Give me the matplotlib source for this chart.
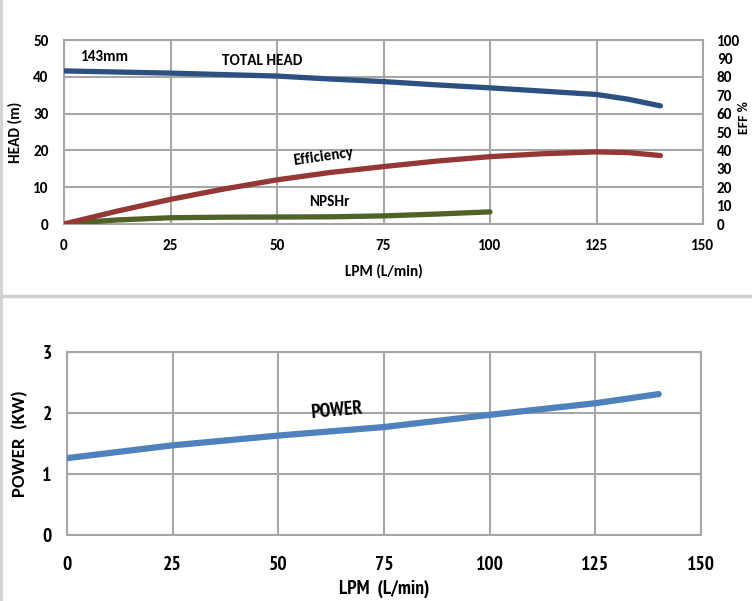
import matplotlib
matplotlib.use("Agg")
import matplotlib.pyplot as plt
from matplotlib.lines import Line2D

# flow points (L/min)
flow = [0, 12.5, 25, 37.5, 50, 62.5, 75, 87.5, 100, 112.5, 125, 132.5, 140]
total_head = [41.6, 41.3, 41.0, 40.6, 40.2, 39.4, 38.7, 37.8, 37.0, 36.1, 35.2, 33.9, 32.1]
efficiency = [0, 7.0, 13.4, 19.0, 24.0, 28.0, 31.2, 34.2, 36.6, 38.2, 39.2, 38.8, 37.2]  # %

npsh_flow = [0, 6, 12.5, 25, 37.5, 50, 62.5, 75, 87.5, 100]
npshr = [0, 0.6, 1.1, 1.7, 1.85, 1.9, 1.95, 2.2, 2.7, 3.3]

power_flow = [0, 25, 50, 75, 100, 125, 140]
power = [1.26, 1.47, 1.63, 1.77, 1.97, 2.16, 2.31]

x_ticks = [0, 25, 50, 75, 100, 125, 150]

W, H = 752, 601
fig = plt.figure(figsize=(W / 100, H / 100), dpi=100)

top_font = "Carlito"
bot_font = "PT Sans Narrow"
grid_c = "#a6a6a6"
tf = dict(fontfamily=top_font, fontweight="bold", fontsize=11)
bf = dict(fontfamily=bot_font, fontweight="bold", fontsize=14)


def px_axes(x0, y0, x1, y1):
    return fig.add_axes([x0 / W, 1 - y1 / H, (x1 - x0) / W, (y1 - y0) / H])


# panel separators
fig.add_artist(Line2D([1 / W, 1 / W], [0, 1], color="#d0d0d0", lw=2))
fig.add_artist(Line2D([0, 1], [1 - 296 / H, 1 - 296 / H], color="#d0d0d0", lw=2.5))

# ---- top chart: head / efficiency / npsh
ax = px_axes(64, 40, 703, 224)
ax.set_xlim(0, 150)
ax.set_ylim(0, 50)
ax.set_xticks(x_ticks)
ax.set_yticks(range(0, 51, 10))
ax.grid(True, color=grid_c, lw=1.5)
ax.tick_params(length=0, pad=11)
for s in ax.spines.values():
    s.set_color(grid_c)
    s.set_linewidth(1.5)
for lab in ax.get_xticklabels() + ax.get_yticklabels():
    lab.set(**tf)

ax.plot(flow, total_head, color="#2c5080", lw=3.8, solid_capstyle="round", zorder=3)
ax.plot(npsh_flow, npshr, color="#4f6228", lw=3.8, solid_capstyle="round", zorder=3)

ax2 = ax.twinx()
ax2.set_ylim(0, 100)
ax2.set_yticks(range(0, 101, 10))
ax2.tick_params(length=0, pad=10)
for s in ax2.spines.values():
    s.set_visible(False)
for lab in ax2.get_yticklabels():
    lab.set(**tf)
ax2.plot(flow, efficiency, color="#953735", lw=3.8, solid_capstyle="round", zorder=3)

ax.set_xlabel("LPM (L/min)", labelpad=8, **tf)
ax.set_ylabel("HEAD (m)", labelpad=8, **tf)
fig.text(744 / W, 1 - 118 / H, "EFF %", rotation=90, ha="center", va="center",
         fontfamily=top_font, fontweight="bold", fontsize=10)

fig.text(105 / W, 1 - 57 / H, "143mm", ha="center", va="center", **tf)
fig.text(262 / W, 1 - 61 / H, "TOTAL HEAD", ha="center", va="center", **tf)
fig.text(323 / W, 1 - 157 / H, "Efficiency", ha="center", va="center", rotation=8, **tf)
fig.text(329 / W, 1 - 202 / H, "NPSHr", ha="center", va="center", **tf)

# ---- bottom chart: power
bx = px_axes(67, 352, 701, 535)
bx.set_xlim(0, 150)
bx.set_ylim(0, 3)
bx.set_xticks(x_ticks)
bx.set_yticks([0, 1, 2, 3])
bx.grid(True, color=grid_c, lw=1.5)
bx.tick_params(axis="x", length=0, pad=15)
bx.tick_params(axis="y", length=0, pad=11)
for s in bx.spines.values():
    s.set_color(grid_c)
    s.set_linewidth(1.5)
for lab in bx.get_xticklabels() + bx.get_yticklabels():
    lab.set(**bf)

bx.plot(power_flow, power, color="#4f81bd", lw=4.5, solid_capstyle="round", zorder=3)

bx.set_xlabel("LPM  (L/min)", labelpad=4, fontfamily=bot_font, fontweight="bold", fontsize=14)
bx.set_ylabel("POWER  (KW)", labelpad=10, fontfamily=top_font, fontweight="bold", fontsize=13.5)
fig.text(337 / W, 1 - 411 / H, "POWER", ha="center", va="center", rotation=5, **bf)

fig.savefig("out.png", dpi=100)
